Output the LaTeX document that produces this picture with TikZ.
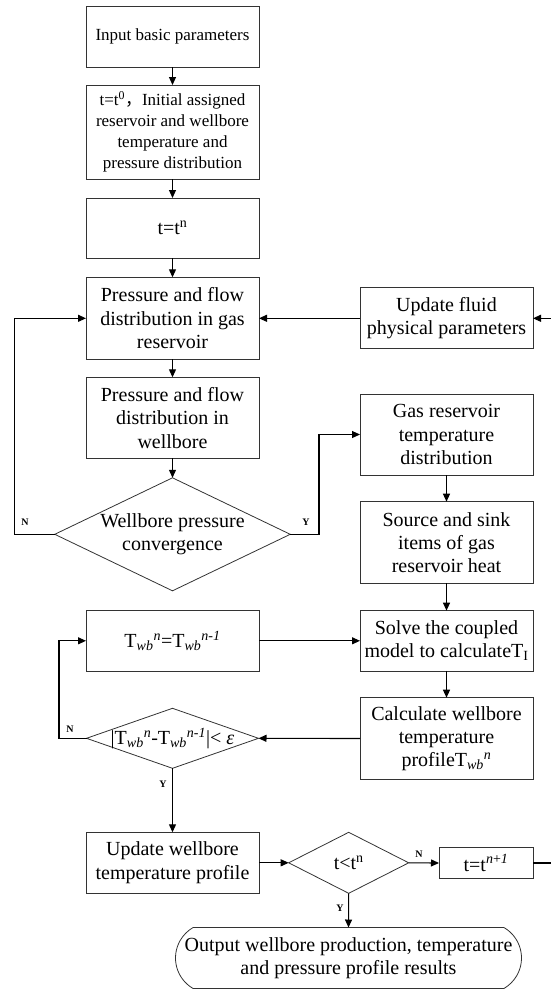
\documentclass[tikz,border=0pt]{standalone}
\usepackage{fontspec}
\setmainfont{Liberation Serif}
\newfontfamily\cjkfont{Noto Sans CJK SC}
\usetikzlibrary{arrows.meta,shapes.geometric,shapes.misc}
\newcommand\myfa{\fontsize{17}{21}\selectfont}
\newcommand\myfb{\fontsize{20}{23.3}\selectfont}
\newcommand\Twb{T\textsubscript{\textit{wb}}}
\begin{document}
\begin{tikzpicture}[x=1pt,y=-1pt,
  box/.style={draw=black!80,line width=0.8pt,rectangle,inner sep=0pt,outer sep=0pt,
    minimum width=173pt,align=center,font=\myfb},
  topbox/.style={box,font=\myfa},
  dia/.style={draw=black!80,line width=0.8pt,diamond,inner sep=0pt,outer sep=0pt},
  term/.style={draw=black!80,line width=0.8pt,rounded rectangle,rounded rectangle arc length=120,
    inner sep=0pt,outer sep=0pt,align=center,font=\myfb},
  arr/.style={line width=1.1pt,-{Triangle[length=8pt,width=7pt]}},
  ln/.style={line width=1.1pt},
  yn/.style={font=\fontsize{10}{12}\selectfont\bfseries,inner sep=0pt}]
\useasboundingbox (0,0) rectangle (551,991);
% left column
\node[topbox,minimum height=61pt] (b1) at (172.5,36.5) {Input basic parameters};
\node[topbox,minimum height=94pt] (b2) at (172.5,132) {t=t\textsuperscript{0}{\cjkfont ，}Initial assigned\\reservoir and wellbore\\temperature and\\pressure distribution};
\node[topbox,minimum height=60pt,font=\myfb] (b3) at (172.5,228) {t=t\textsuperscript{n}};
\node[box,minimum height=82pt] (b4) at (172.5,318.3) {Pressure and flow\\distribution in gas\\reservoir};
\node[box,minimum height=81pt] (b5) at (172.5,417.8) {Pressure and flow\\distribution in\\wellbore};
\node[dia,minimum width=235.5pt,minimum height=113pt,
  label={[font=\myfb,align=center]center:Wellbore pressure\\convergence}] (d1) at (172.5,534.3) {};
\node[box,minimum height=60.3pt] (tw) at (172.5,640.8) {\Twb\textsuperscript{\textit{n}}=\Twb\textsuperscript{\textit{n}-\textit{1}}};
\node[dia,minimum width=172pt,minimum height=60pt,
  label={[font=\myfb]center:|\Twb\textsuperscript{\textit{n}}-\Twb\textsuperscript{\textit{n}-\textit{1}}|<~\textit{ε}}] (d2) at (172.5,738.3) {};
\node[box,minimum height=61pt] (uw) at (172.5,862.8) {Update wellbore\\temperature profile};
% right column
\node[box,minimum height=61pt] (uf) at (446.5,318.3) {Update fluid\\physical parameters};
\node[box,minimum height=81pt] (g1) at (446.5,434.5) {Gas reservoir\\temperature\\distribution};
\node[box,minimum height=81.6pt] (g2) at (446.5,542.5) {Source and sink\\items of gas\\reservoir heat};
\node[box,minimum height=60.3pt] (g3) at (446.5,640.8) {Solve the coupled\\model to calculateT\textsubscript{I}};
\node[box,minimum height=81.6pt] (g4) at (446.5,738.5) {Calculate wellbore\\temperature\\profile\Twb\textsuperscript{\textit{n}}};
% bottom
\node[dia,minimum width=120pt,minimum height=61pt,
  label={[font=\myfb]center:t<t\textsuperscript{n}}] (d3) at (348.7,862.8) {};
\node[box,minimum width=94pt,minimum height=30.6pt] (tn1) at (486,863) {t=t\textsuperscript{\textit{n}+\textit{1}}};
\node[term,minimum width=346pt,minimum height=61pt] (out) at (348.5,958) {Output wellbore production, temperature\\and pressure profile results};
% corner coordinates
\coordinate (nl) at (14.8,534.3);
\coordinate (yr) at (319,534.3);
\coordinate (n2) at (59,738.3);
\coordinate (rr) at (562,863);
% connectors
\draw[arr] (b1) -- (b2);
\draw[arr] (b2) -- (b3);
\draw[arr] (b3) -- (b4);
\draw[arr] (b4) -- (b5);
\draw[arr] (b5) -- (d1.north);
\draw[arr] (d1.west) -- (nl) |- (b4.west);
\draw[arr] (d1.east) -- (yr) |- (g1.west);
\draw[arr] (uf.west) -- (b4.east);
\draw[arr] (g1) -- (g2);
\draw[arr] (g2) -- (g3);
\draw[arr] (g3) -- (g4);
\draw[arr] (g4.west) -- (d2.east);
\draw[arr] (d2.west) -- (n2) |- (tw.west);
\draw[arr] (tw.east) -- (g3.west);
\draw[arr] (d2.south) -- (uw.north);
\draw[arr] (uw.east) -- (d3.west);
\draw[arr] (d3.east) -- (tn1.west);
\draw[arr] (d3.south) -- (out.north);
\draw[arr] (tn1.east) -- (rr) |- (uf.east);
% Y / N labels
\node[yn] (ln1) at (25,522.7) {N};
\node[yn] (ly1) at (306,522.7) {Y};
\node[yn] (ln2) at (70,729.3) {N};
\node[yn] (ly2) at (163,784.3) {Y};
\node[yn] (ln3) at (419,854.3) {N};
\node[yn] (ly3) at (340,908.3) {Y};
\end{tikzpicture}
\end{document}
